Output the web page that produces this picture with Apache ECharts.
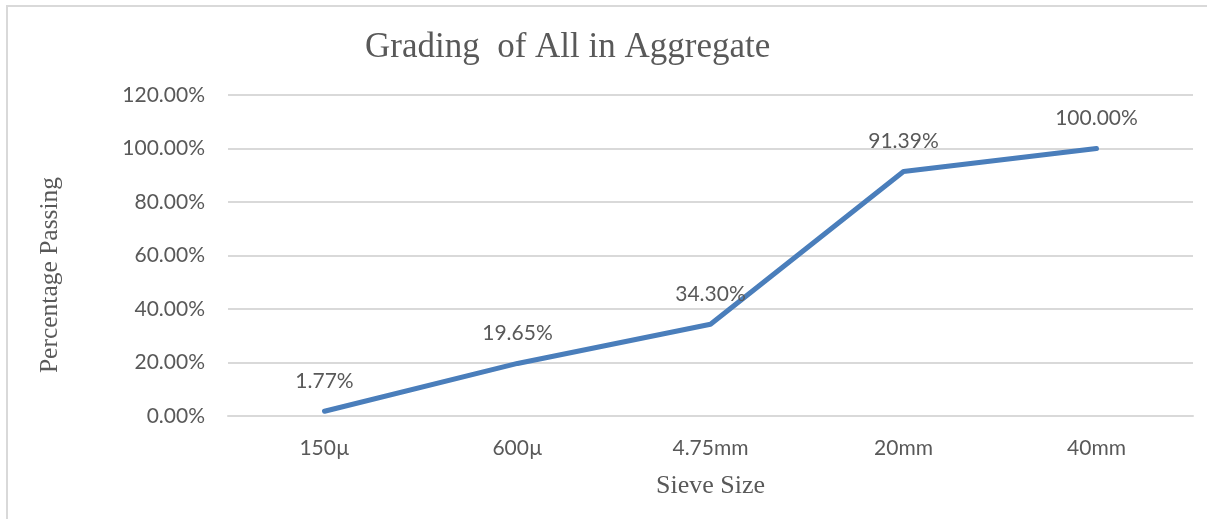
<!DOCTYPE html>
<html>
<head>
<meta charset="utf-8">
<script src="https://cdn.jsdelivr.net/npm/echarts@6/dist/echarts.min.js"></script>
<style>
  html, body { margin: 0; padding: 0; background: #ffffff; }
  #chart { width: 1207px; height: 519px; }
</style>
</head>
<body>
<div id="chart"></div>
<script>
// Sieve sizes along the x axis
const sieveSizes = ['150µ', '600µ', '4.75mm', '20mm', '40mm'];
// Cumulative percentage passing each sieve
const percentPassing = [1.77, 19.65, 34.30, 91.39, 100.00];
// Value axis range and step (percent)
const yMin = 0;
const yMax = 120;
const yStep = 20;

const textGray = '#595959';
const gridGray = '#d9d9d9';
const lineBlue = '#4a7ebb';
const sansFont = 'Lato, "Liberation Sans", sans-serif';
const serifFont = '"Liberation Serif", "DejaVu Serif", serif';

const pct = v => Number(v).toFixed(2) + '%';

const chart = echarts.init(document.getElementById('chart'), null, { renderer: 'canvas' });

chart.setOption({
  backgroundColor: '#ffffff',
  animation: false,
  title: {
    text: 'Grading  of All in Aggregate',
    left: 360,
    top: 25,
    textStyle: {
      fontFamily: serifFont,
      fontSize: 35,
      fontWeight: 'normal',
      color: textGray
    }
  },
  graphic: [
    {
      type: 'rect',
      shape: { x: 7, y: 6, width: 1400, height: 700 },
      style: { fill: 'none', stroke: gridGray, lineWidth: 2 },
      silent: true
    },
    {
      type: 'text',
      x: 50,
      y: 275,
      rotation: Math.PI / 2,
      silent: true,
      style: {
        text: 'Percentage Passing',
        fontFamily: serifFont,
        fontSize: 25.5,
        fill: textGray,
        align: 'center',
        verticalAlign: 'middle'
      }
    }
  ],
  grid: {
    left: 228,
    right: 14,
    top: 95,
    bottom: 103,
    containLabel: false,
    outerBoundsMode: 'none'
  },
  xAxis: {
    type: 'category',
    data: sieveSizes,
    boundaryGap: true,
    name: 'Sieve Size',
    nameLocation: 'middle',
    nameGap: 57,
    nameTextStyle: {
      fontFamily: serifFont,
      fontSize: 26,
      color: textGray
    },
    axisLine: { show: true, lineStyle: { color: gridGray, width: 2 } },
    axisTick: { show: false },
    axisLabel: {
      margin: 22,
      fontFamily: sansFont,
      fontSize: 21,
      color: textGray
    }
  },
  yAxis: {
    type: 'value',
    min: yMin,
    max: yMax,
    interval: yStep,
    axisLine: { show: false },
    axisTick: { show: false },
    splitLine: { show: true, lineStyle: { color: gridGray, width: 2 } },
    axisLabel: {
      margin: 23,
      formatter: v => pct(v),
      fontFamily: sansFont,
      fontSize: 21,
      color: textGray
    }
  },
  series: [
    {
      type: 'line',
      data: percentPassing,
      symbol: 'circle',
      symbolSize: 0,
      showSymbol: true,
      lineStyle: { color: lineBlue, width: 5, cap: 'round', join: 'round' },
      itemStyle: { color: lineBlue },
      label: {
        show: true,
        position: 'top',
        distance: 20,
        formatter: p => pct(p.value),
        fontFamily: sansFont,
        fontSize: 21,
        color: textGray
      }
    }
  ]
});
</script>
</body>
</html>
